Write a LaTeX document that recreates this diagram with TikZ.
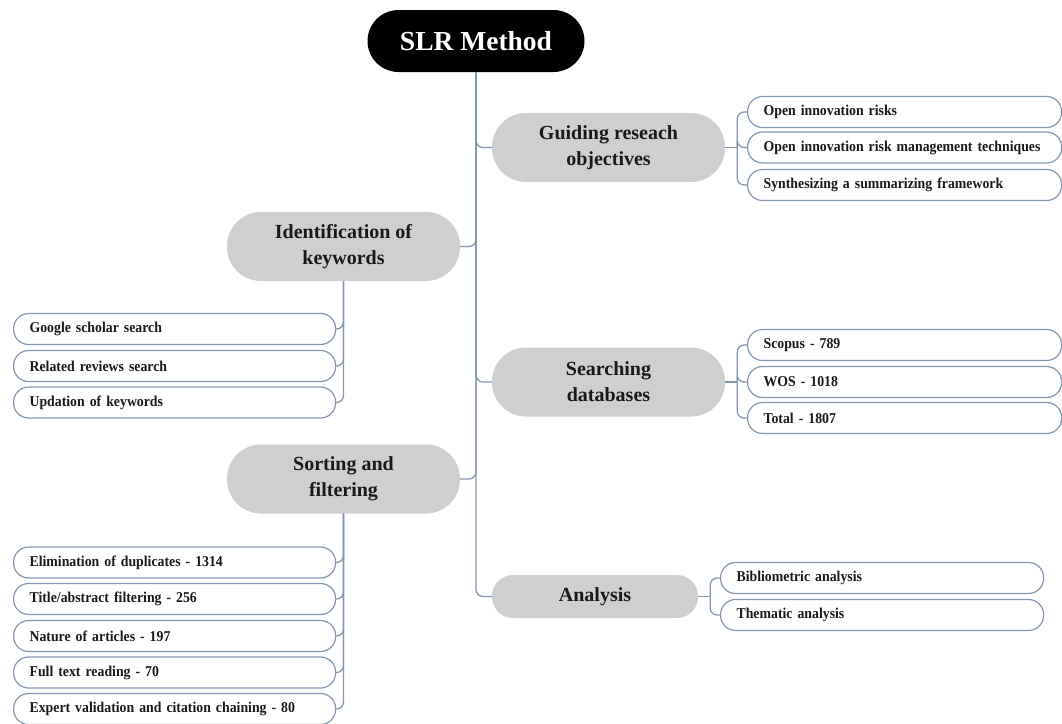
\documentclass[tikz,border=0pt]{standalone}
\usepackage{fontspec}
\setmainfont{Liberation Serif}
\newfontfamily\leaffont{Liberation Serif}[FakeStretch=0.92]
\usetikzlibrary{positioning}

\definecolor{linkblue}{RGB}{132,151,176}
\definecolor{pillgray}{RGB}{207,207,207}
\definecolor{inkdark}{RGB}{25,25,25}

\tikzset{
  rootbox/.style={rectangle, rounded corners=31pt, fill=black, text=white,
    minimum width=217pt, minimum height=62pt, inner sep=0pt,
    font=\fontsize{27.5}{30}\selectfont\bfseries},
  topic/.style={rectangle, rounded corners=34pt, fill=pillgray, text=inkdark,
    minimum width=233pt, minimum height=69pt, inner sep=0pt, align=center,
    font=\fontsize{20}{26}\selectfont\bfseries},
  leaf/.style={rectangle, rounded corners=15pt, draw=linkblue, line width=1.2pt,
    fill=white, text=inkdark, minimum height=31pt, inner ysep=0pt, inner xsep=16pt,
    text width=#1, align=left, anchor=west,
    execute at begin node={\hbox\bgroup}, execute at end node={\egroup},
    font=\leaffont\fontsize{15}{17}\selectfont\bfseries},
  leaf/.default=290pt,
  link/.style={draw=linkblue, line width=1.3pt, rounded corners=7pt},
}

\begin{document}
\begin{tikzpicture}[x=1pt,y=-1pt]
\useasboundingbox (0,0) rectangle (1062,723);

% main topics
\node[rootbox] (slr) at (476,41) {SLR Method};
\node[topic] (guide) at (608.5,147.5) {Guiding reseach\\objectives};
\node[topic] (ident) at (343.5,246.5) {Identification of\\keywords};
\node[topic] (search) at (608.5,382) {Searching\\databases};
\node[topic] (sort) at (343.5,479) {Sorting and\\filtering};
\node[topic, minimum width=206pt, minimum height=43pt, rounded corners=21pt] (anal)
  at (595,596.5) {Analysis};

% trunk
\draw[link] (slr.south) |- (guide.west);
\draw[link] (slr.south) |- (ident.east);
\draw[link] (slr.south) |- (search.west);
\draw[link] (slr.south) |- (sort.east);
\draw[link] (slr.south) |- (anal.west);

% objectives
\node[leaf=282pt] (obj1) at (747,112) {Open innovation risks};
\node[leaf=282pt] (obj2) at (747,147.5) {Open innovation risk management techniques};
\node[leaf=282pt] (obj3) at (747,185) {Synthesizing a summarizing framework};
\draw[link] (guide.east) -- ++(12,0) coordinate (guidej);
\foreach \c in {obj1,obj2,obj3}
  \draw[link] (guidej) |- (\c.west);

% keywords
\node[leaf] (kw1) at (13,329) {Google scholar search};
\node[leaf] (kw2) at (13,366) {Related reviews search};
\node[leaf] (kw3) at (13,402.5) {Updation of keywords};
\foreach \c in {kw1,kw2,kw3}
  \draw[link] (ident.south) |- (\c.east);

% databases
\node[leaf=282pt] (db1) at (747,345) {Scopus - 789};
\node[leaf=282pt] (db2) at (747,382) {WOS - 1018};
\node[leaf=282pt] (db3) at (747,418) {Total - 1807};
\draw[link] (search.east) -- ++(12,0) coordinate (searchj);
\foreach \c in {db1,db2,db3}
  \draw[link] (searchj) |- (\c.west);

% sorting
\node[leaf] (st1) at (13,562.5) {Elimination of duplicates - 1314};
\node[leaf] (st2) at (13,599) {Title/abstract filtering - 256};
\node[leaf] (st3) at (13,636) {Nature of articles - 197};
\node[leaf] (st4) at (13,672.5) {Full text reading - 70};
\node[leaf] (st5) at (13,709) {Expert validation and citation chaining - 80};
\foreach \c in {st1,st2,st3,st4,st5}
  \draw[link] (sort.south) |- (\c.east);

% analysis
\node[leaf=291pt] (an1) at (720,578) {Bibliometric analysis};
\node[leaf=291pt] (an2) at (720,615) {Thematic analysis};
\draw[link] (anal.east) -- ++(12,0) coordinate (analj);
\foreach \c in {an1,an2}
  \draw[link] (analj) |- (\c.west);
\end{tikzpicture}
\end{document}
